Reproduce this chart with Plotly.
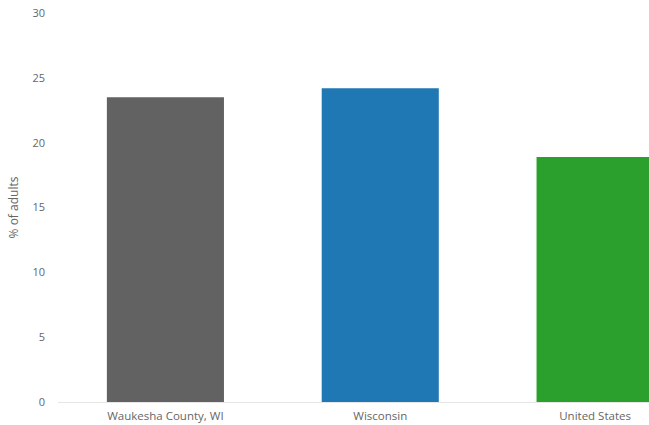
import plotly.graph_objects as go

categories = ["Waukesha County, WI", "Wisconsin", "United States"]
values = [23.5, 24.2, 18.9]
colors = ["#626262", "#1f77b4", "#2ca02c"]
y_ticks = [0, 5, 10, 15, 20, 25, 30]

fig = go.Figure(
    go.Bar(
        x=categories,
        y=values,
        marker=dict(color=colors, line=dict(width=0)),
        width=0.545,
        hoverinfo="x+y",
    )
)

fig.update_layout(
    width=649,
    height=425,
    margin=dict(l=58, r=0, t=13, b=23),
    paper_bgcolor="white",
    plot_bgcolor="white",
    font=dict(family="Open Sans, DejaVu Sans, sans-serif", size=11, color="#666666"),
    showlegend=False,
    bargap=0.455,
)

fig.update_xaxes(
    range=[-0.5, 2.251],
    showgrid=False,
    showline=True,
    linecolor="#e6e6e6",
    linewidth=1,
    ticks="",
    ticklabelstandoff=3,
    tickfont=dict(size=11.5, color="#666666"),
    fixedrange=True,
)

fig.update_yaxes(
    range=[0, 30],
    tickvals=y_ticks,
    showgrid=False,
    zeroline=False,
    showline=False,
    ticks="",
    ticklabelstandoff=12,
    tickfont=dict(size=11, color="#666666"),
    title=dict(text="% of adults", font=dict(size=12, color="#666666"), standoff=11),
    fixedrange=True,
)

fig.write_html(
    "out.html",
    config={"displayModeBar": False},
    post_script="document.body.style.margin='0px';document.body.style.overflow='hidden';",
)
